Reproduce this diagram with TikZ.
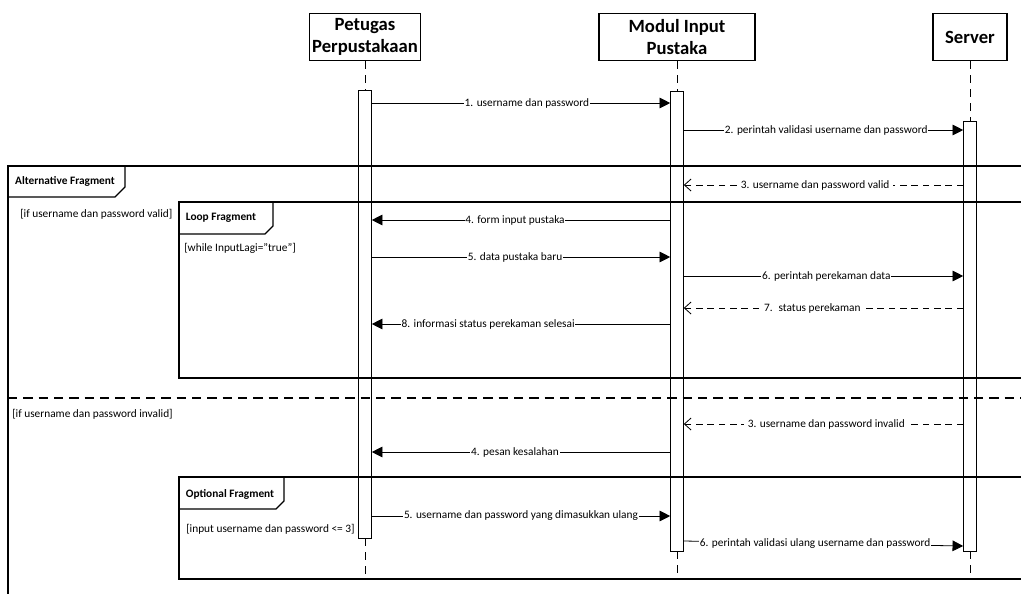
\documentclass[tikz,border=0pt]{standalone}
\usepackage{fontspec}
\setmainfont{Carlito}
\usetikzlibrary{positioning}
\usetikzlibrary{arrows.meta}
\usetikzlibrary{fit}
\tikzset {
  % participant boxes and their lifelines
  actor/.style = {draw, line width=1pt, align=center, inner sep=1pt,
    font=\fontsize{14}{16.5}\selectfont\bfseries, minimum height=35.25pt},
  lifeline/.style = {line width=0.6pt, dash pattern=on 6pt off 4.5pt},
  act/.style = {draw, fill=white, line width=0.7pt, inner sep=0pt, minimum width=9.5pt},
  % messages
  msg/.style = {line width=0.6pt, -{Triangle[length=8pt,width=8pt]}},
  ret/.style = {line width=0.6pt, dash pattern=on 5pt off 3.5pt, -{Straight Barb[length=5pt,width=9pt]}},
  lbl/.style = {fill=white, inner sep=0.6pt, font=\fontsize{8.5}{10}\selectfont},
  rlbl/.style = {lbl, inner xsep=3pt},
  % combined fragments
  frame/.style = {line width=1pt},
  sep/.style = {line width=1pt, dash pattern=on 7pt off 4.5pt},
  tabtext/.style = {font=\fontsize{8.5}{10}\selectfont\bfseries, inner sep=0pt},
  guard/.style = {font=\fontsize{8.5}{10}\selectfont, anchor=west, inner sep=0pt},
}

\begin{document}
\begin{tikzpicture}[x=0.75pt, y=-0.75pt]
  \useasboundingbox (0,0) rectangle (1021,593);
  \clip (0,0) rectangle (1021,593);

  % participants
  \node[actor, minimum width=83.25pt] (pet) at (365,37) {Petugas\\Perpustakaan};
  \node[actor, minimum width=117pt] (mod) at (677,37) {Modul Input\\Pustaka};
  \node[actor, minimum width=55.5pt] (srv) at (970,37) {Server};

  % activations
  \node[act, fit={(365,90) (365,538)}] (pa) {};
  \node[act, fit={(677,91) (677,551)}] (ma) {};
  \node[act, fit={(970,121) (970,551)}] (sa) {};

  \draw[lifeline] (pet) -- (pa);
  \draw[lifeline] (mod) -- (ma);
  \draw[lifeline] (srv) -- (sa);
  \draw[lifeline] (pa) -- (pa |- 0,579);
  \draw[lifeline] (ma) -- (ma |- 0,579);
  \draw[lifeline] (sa) -- (sa |- 0,579);

  % login
  \draw[msg] (pa.east |- 0,103) -- node[lbl, pos=0.52] {1. username dan password} (ma.west |- 0,103);
  \draw[msg] (ma.east |- 0,130) -- node[lbl, pos=0.51] {2. perintah validasi username dan password} (sa.west |- 0,130);

  % alternative fragment
  \draw[frame] (8,166) rectangle (1040,620);
  \draw[frame] (8,197) -- (115,197) -- (125,187) -- (125,166);
  \node[tabtext] (altTab) at (65,181) {Alternative Fragment};
  \node[guard] (gValid) at (20,214) {[if username dan password valid]};
  \draw[ret] (sa.west |- 0,185) -- node[rlbl, pos=0.53] {3. username dan password valid} (ma.east |- 0,185);

  % loop fragment
  \draw[frame] (179,202) rectangle (1040,378);
  \draw[frame] (179,234) -- (265,234) -- (273,226) -- (273,202);
  \node[tabtext] (loopTab) at (221,218) {Loop Fragment};
  \node[guard] (gLoop) at (184,248) {[while InputLagi="true"]};
  \draw[msg] (ma.west |- 0,220) -- node[lbl, pos=0.52] {4. form input pustaka} (pa.east |- 0,220);
  \draw[msg] (pa.east |- 0,257) -- node[lbl, pos=0.48] {5. data pustaka baru} (ma.west |- 0,257);
  \draw[msg] (ma.east |- 0,276) -- node[lbl, pos=0.51] {6. perintah perekaman data} (sa.west |- 0,276);
  \draw[ret] (sa.west |- 0,308) -- node[rlbl, pos=0.54] {7.~ status perekaman} (ma.east |- 0,308);
  \draw[msg] (ma.west |- 0,324) -- node[lbl, pos=0.61] {8. informasi status perekaman selesai} (pa.east |- 0,324);

  % invalid branch
  \draw[sep] (8,398) -- (1040,398);
  \node[guard] (gInvalid) at (12,414) {[if username dan password invalid]};
  \draw[ret] (sa.west |- 0,424) -- node[rlbl, pos=0.49] {3. username dan password invalid} (ma.east |- 0,424);
  \draw[msg] (ma.west |- 0,452) -- node[lbl, pos=0.52] {4. pesan kesalahan} (pa.east |- 0,452);

  % optional fragment
  \draw[frame] (179,477) rectangle (1040,579);
  \draw[frame] (179,509) -- (276,509) -- (284,501) -- (284,477);
  \node[tabtext] (optTab) at (230,494) {Optional Fragment};
  \node[guard] (gOpt) at (186,529) {[input username dan password <= 3]};
  \draw[msg] (pa.east |- 0,516) -- node[lbl, pos=0.50] {5. username dan password yang dimasukkan ulang} (ma.west |- 0,516);
  \draw[msg] (ma.east |- 0,541) -- node[lbl, pos=0.47] {6. perintah validasi ulang username dan password} (sa.west |- 0,546);
\end{tikzpicture}
\end{document}
